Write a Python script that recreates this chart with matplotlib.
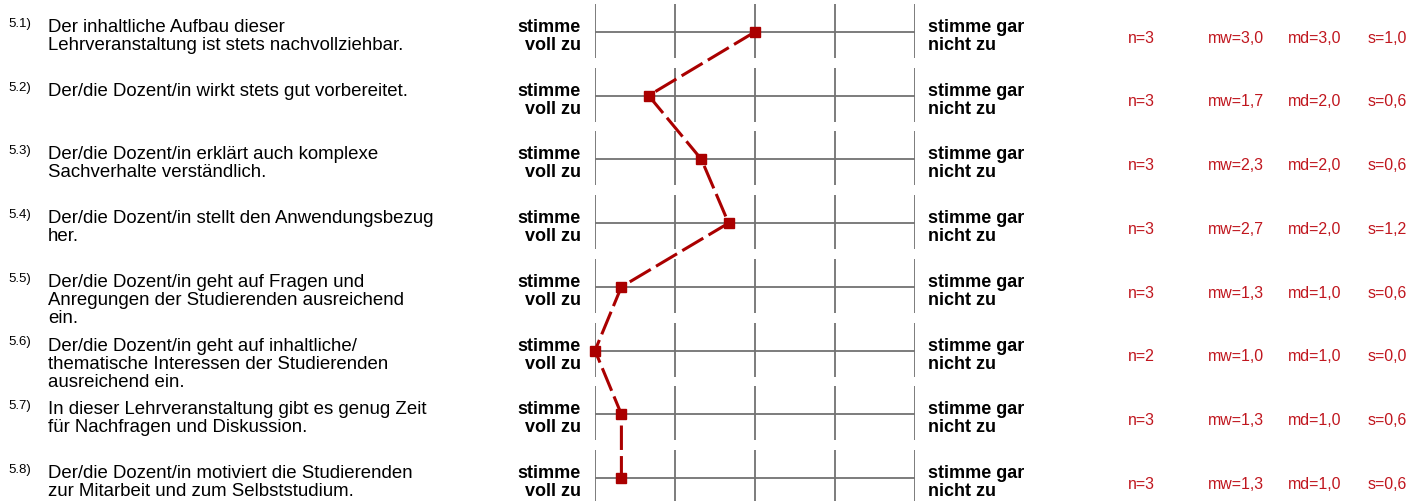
import matplotlib.pyplot as plt
from matplotlib.transforms import blended_transform_factory

plt.rcParams['font.family'] = ['Liberation Sans', 'DejaVu Sans']

# Daten
nummern = ['5.1)', '5.2)', '5.3)', '5.4)', '5.5)', '5.6)', '5.7)', '5.8)']
fragen = [
    'Der inhaltliche Aufbau dieser\nLehrveranstaltung ist stets nachvollziehbar.',
    'Der/die Dozent/in wirkt stets gut vorbereitet.',
    'Der/die Dozent/in erklärt auch komplexe\nSachverhalte verständlich.',
    'Der/die Dozent/in stellt den Anwendungsbezug\nher.',
    'Der/die Dozent/in geht auf Fragen und\nAnregungen der Studierenden ausreichend\nein.',
    'Der/die Dozent/in geht auf inhaltliche/\nthematische Interessen der Studierenden\nausreichend ein.',
    'In dieser Lehrveranstaltung gibt es genug Zeit\nfür Nachfragen und Diskussion.',
    'Der/die Dozent/in motiviert die Studierenden\nzur Mitarbeit und zum Selbststudium.',
]
mittelwerte = [3.0, 1.67, 2.33, 2.67, 1.33, 1.0, 1.33, 1.33]
n_werte = [3, 3, 3, 3, 3, 2, 3, 3]
mediane = [3.0, 2.0, 2.0, 2.0, 1.0, 1.0, 1.0, 1.0]
stdabw = [1.0, 0.6, 0.6, 1.2, 0.6, 0.0, 0.6, 0.6]
skala = [1, 2, 3, 4, 5]
links = ['stimme', 'voll zu']
rechts = ['stimme gar', 'nicht zu']

W, H = 1409, 501
fig = plt.figure(figsize=(W / 100, H / 100), dpi=100)
ax = fig.add_axes([595 / W, 0, 320 / W, 1])
ax.set_xlim(1, 5)
ax.set_ylim(7.36, -0.5)
ax.axis('off')

grau = '#727272'
rot = '#aa0000'
textrot = '#c0161e'
zeilen = list(range(len(fragen)))
zeilenabstand = 18 / 63.74  # 18 px zwischen Grundlinien

# Gitter je Frage
for i in zeilen:
    ax.plot([skala[0], skala[-1]], [i, i], color=grau, lw=1.3, zorder=1)
    ax.vlines(skala, i - 0.44, i + 0.41, color=grau, lw=1.3, zorder=1)

# Profillinie
ax.plot(mittelwerte, zeilen, color=rot, lw=2.2, linestyle=(0, (8, 2)),
        marker='s', markersize=7, zorder=3, clip_on=False)

trans = blended_transform_factory(fig.transFigure, ax.transData)


def fx(px):
    return px / W


def mehrzeilig(x, y, zeilen_text, **kw):
    for k, t in enumerate(zeilen_text):
        ax.text(fx(x), y + k * zeilenabstand, t, transform=trans,
                va='baseline', **kw)


for i in zeilen:
    ax.text(fx(8), i - 0.08, nummern[i], transform=trans, fontsize=9.5,
            va='baseline', ha='left')
    mehrzeilig(48, i, fragen[i].split('\n'), fontsize=13.4, ha='left')
    mehrzeilig(581, i, links, fontsize=13, fontweight='bold', ha='right')
    mehrzeilig(928, i, rechts, fontsize=13, fontweight='bold', ha='left')
    y = i + 0.17
    ax.text(fx(1128), y, f'n={n_werte[i]}', transform=trans, fontsize=11.4,
            color=textrot, va='baseline')
    ax.text(fx(1208), y, 'mw=' + f'{mittelwerte[i]:.1f}'.replace('.', ','),
            transform=trans, fontsize=11.4, color=textrot, va='baseline')
    ax.text(fx(1288), y, 'md=' + f'{mediane[i]:.1f}'.replace('.', ','),
            transform=trans, fontsize=11.4, color=textrot, va='baseline')
    ax.text(fx(1368), y, 's=' + f'{stdabw[i]:.1f}'.replace('.', ','),
            transform=trans, fontsize=11.4, color=textrot, va='baseline')

fig.savefig('out.png', dpi=100)
